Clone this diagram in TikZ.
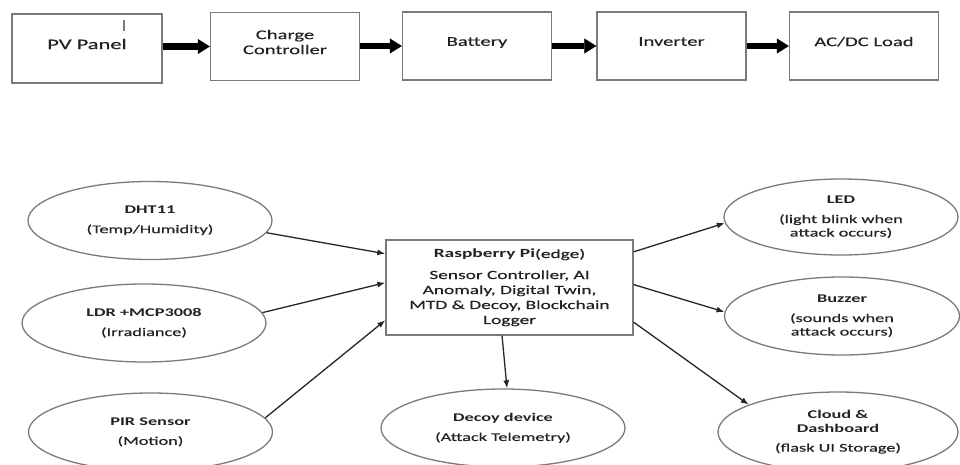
\documentclass[tikz,border=0pt]{standalone}
\usepackage{fontspec}
\setmainfont{Carlito}[FakeStretch=1.55,UprightFeatures={FakeBold=0.4}]
\usepackage{xcolor}
\usepackage{tikz}
\usetikzlibrary{calc}
\usetikzlibrary{arrows.meta}
\usetikzlibrary{shapes.geometric}
\definecolor{boxgray}{HTML}{7A7A7A}
\definecolor{inkgray}{HTML}{222222}
\tikzset{
	stagebox/.style={draw=boxgray,line width=1.4pt,minimum width=149pt,minimum height=68pt,inner sep=0pt,align=center,text depth=9pt,text=inkgray,font=\fontsize{13.3}{15}\selectfont},
	unitbubble/.style={ellipse,draw=boxgray,line width=1.3pt,minimum width=244pt,minimum height=78pt,inner sep=0pt,align=center,text=inkgray,font=\fontsize{11.8}{13.5}\selectfont},
	pibox/.style={draw=boxgray,line width=1.4pt,minimum width=247pt,minimum height=95pt,inner sep=0pt,align=center,text=inkgray,font=\fontsize{12.5}{15}\selectfont},
	flow/.style={line width=6.5pt,-{Triangle[length=12pt,width=15pt,line width=0.5pt]}},
	wire/.style={line width=1.3pt,draw=black!85,-{Latex[length=8pt,width=6pt]}}
}

\begin{document}
\begin{tikzpicture}[x=1pt,y=-1pt]
	\useasboundingbox (0,0) rectangle (960,465);
	\node[stagebox,minimum width=150pt,minimum height=69pt,font=\fontsize{14.5}{16}\selectfont] (pv) at (87,48.5) {PV Panel};
	\node[stagebox] (chg) at (285,46.5) {Charge\\Controller};
	\node[stagebox] (bat) at (477,46) {Battery};
	\node[stagebox] (inv) at (671.5,46) {Inverter};
	\node[stagebox] (load) at (864,46) {AC/DC Load};
	\draw[boxgray,line width=1.2pt] ([xshift=37pt,yshift=-7pt]pv.north) -- ([xshift=37pt,yshift=-18pt]pv.north);
	\draw[flow] (pv.east |- chg) -- (chg);
	\draw[flow] (chg.east |- bat) -- (bat);
	\draw[flow] (bat.east |- inv) -- (inv);
	\draw[flow] (inv.east |- load) -- (load);

	\node[pibox] (pi) at (509.5,287.5) {\textbf{Raspberry Pi}(edge)\\[6pt]Sensor Controller, AI\\Anomaly, Digital Twin,\\MTD \& Decoy, Blockchain\\Logger};
	\node[unitbubble] (dht) at (150,220.5) {\textbf{DHT11}\\[6pt](Temp/Humidity)};
	\node[unitbubble] (ldr) at (144,323) {\textbf{LDR +MCP3008}\\[6pt](Irradiance)};
	\node[unitbubble] (pir) at (150.5,432) {\textbf{PIR Sensor}\\[6pt](Motion)};
	\node[unitbubble] (decoy) at (503,428) {\textbf{Decoy device}\\[6pt](Attack Telemetry)};
	\node[unitbubble,minimum width=234pt,minimum height=76pt] (led) at (841,217) {\textbf{LED}\\[6pt](light blink when\\attack occurs)};
	\node[unitbubble,minimum width=235pt] (buzz) at (842,316) {\textbf{Buzzer}\\[6pt](sounds when\\attack occurs)};
	\node[unitbubble,minimum width=240pt,minimum height=80pt] (cloud) at (838,432) {\textbf{Cloud \&}\\\textbf{Dashboard}\\[6pt](flask UI Storage)};

	\draw[wire] (dht.-6) -- ($(pi.north west)!0.15!(pi.south west)$);
	\draw[wire] (ldr.5) -- ($(pi.north west)!0.45!(pi.south west)$);
	\draw[wire] (pir.7) -- ($(pi.north west)!0.84!(pi.south west)$);
	\draw[wire] ($(pi.north east)!0.13!(pi.south east)$) -- (led.183);
	\draw[wire] ($(pi.north east)!0.47!(pi.south east)$) -- (buzz.178);
	\draw[wire] ($(pi.north east)!0.86!(pi.south east)$) -- (cloud.163);
	\draw[wire] ($(pi.south west)!0.47!(pi.south east)$) -- ([xshift=4pt]decoy.north);
\end{tikzpicture}
\end{document}
